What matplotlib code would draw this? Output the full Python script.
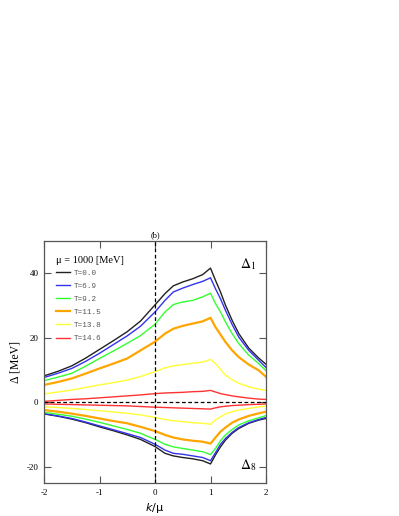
import matplotlib
matplotlib.use("Agg")
import matplotlib.pyplot as plt

k = [-2, -1.75, -1.5, -1.25, -1, -0.75, -0.5, -0.26, 0, 0.18, 0.33, 0.5, 0.68, 0.86, 1.0,
     1.09, 1.18, 1.27, 1.39, 1.51, 1.69, 1.87, 2.0]

temps = ["T=0.0", "T=6.9", "T=9.2", "T=11.5", "T=13.8", "T=14.6"]
colors = ["#222222", "#3333ee", "#33ff33", "#ffa500", "#ffff33", "#ff3333"]
widths = [1.0, 1.0, 1.0, 1.6, 1.0, 1.0]

d1_T0 = [8.2, 9.6, 11.3, 13.7, 16.4, 19.1, 21.9, 25.2, 30.2, 33.7, 36.1, 37.3, 38.3, 39.6, 41.6,
         37.8, 34.2, 30.1, 25.4, 21.3, 16.8, 13.7, 11.8]
d1_T69 = [7.7, 9.0, 10.5, 12.7, 15.2, 17.9, 20.6, 23.6, 28.0, 31.6, 34.2, 35.4, 36.5, 37.5, 38.6,
          35.2, 32.1, 28.5, 24.1, 20.2, 16.1, 13.0, 10.8]
d1_T92 = [6.7, 7.8, 9.0, 11.2, 13.6, 15.9, 18.3, 20.7, 24.2, 28.0, 30.3, 31.1, 31.6, 32.7, 33.8,
          30.6, 28.0, 24.9, 21.3, 18.2, 14.6, 12.0, 9.8]
d1_T115 = [5.4, 6.3, 7.4, 8.9, 10.5, 12.0, 13.6, 16.1, 18.8, 21.3, 22.8, 23.7, 24.4, 25.1, 26.2,
           23.3, 21.0, 18.7, 16.1, 14.0, 11.7, 9.9, 7.9]
d1_T138 = [2.6, 3.2, 3.8, 4.6, 5.4, 6.1, 6.9, 8.0, 9.5, 10.7, 11.3, 11.7, 12.1, 12.5, 13.3,
           12.0, 10.2, 8.4, 7.0, 5.9, 4.8, 4.1, 3.7]
d1_T146 = [0.3, 0.6, 0.9, 1.1, 1.4, 1.7, 2.0, 2.3, 2.7, 2.9, 3.0, 3.1, 3.3, 3.4, 3.7,
           3.2, 2.7, 2.4, 2.0, 1.7, 1.3, 1.0, 0.9]

d8_T0 = [-3.6, -4.3, -5.2, -6.3, -7.6, -8.8, -10.1, -11.5, -13.7, -15.8, -16.6, -17.1, -17.5, -18.1, -19.1,
         -16.3, -13.8, -11.7, -9.6, -8.1, -6.5, -5.5, -5.0]
d8_T69 = [-3.5, -4.2, -5.0, -6.1, -7.3, -8.5, -9.7, -10.9, -13.0, -14.8, -15.8, -16.1, -16.6, -17.1, -18.1,
          -15.6, -13.0, -11.2, -9.3, -7.8, -6.3, -5.3, -4.7]
d8_T92 = [-3.1, -3.7, -4.3, -5.2, -6.2, -7.3, -8.4, -9.6, -11.5, -13.0, -13.8, -14.3, -14.8, -15.3, -16.2,
          -14.3, -11.9, -10.1, -8.4, -7.0, -5.7, -4.8, -4.1]
d8_T115 = [-2.4, -2.9, -3.5, -4.2, -5.0, -5.8, -6.5, -7.6, -8.9, -10.1, -10.9, -11.5, -11.9, -12.2, -12.8,
           -10.9, -9.1, -7.8, -6.3, -5.3, -4.2, -3.4, -2.9]
d8_T138 = [-1.4, -1.6, -1.9, -2.2, -2.6, -3.0, -3.4, -3.9, -4.7, -5.3, -5.7, -6.0, -6.3, -6.5, -6.8,
           -5.5, -4.5, -3.6, -2.9, -2.4, -1.9, -1.4, -1.2]
d8_T146 = [-0.5, -0.6, -0.7, -0.8, -0.9, -1.0, -1.1, -1.3, -1.5, -1.6, -1.7, -1.8, -1.9, -2.0, -2.1,
           -1.7, -1.4, -1.2, -1.0, -0.9, -0.7, -0.6, -0.5]

delta1 = [d1_T0, d1_T69, d1_T92, d1_T115, d1_T138, d1_T146]
delta8 = [d8_T0, d8_T69, d8_T92, d8_T115, d8_T138, d8_T146]

xticks = [-2, -1, 0, 1, 2]
yticks = [-20, 0, 20, 40]

fig = plt.figure(figsize=(3.99, 5.16), dpi=100)
ax = fig.add_axes([44/399, 1-483/516, 222/399, 242/516])

serif = "Liberation Serif"

for c, w, lab, a, b in zip(colors, widths, temps, delta1, delta8):
    ax.plot(k, a, color=c, lw=w, label=lab, solid_joinstyle="round")
    ax.plot(k, b, color=c, lw=w, solid_joinstyle="round")

ax.axvline(0, color="black", lw=0.9, ls=(0, (3, 2)))
ax.axhline(0, color="black", lw=0.9, ls=(0, (3, 2)))

ax.set_xlim(-2, 2)
ax.set_ylim(-25, 50)
ax.set_xticks(xticks)
ax.set_yticks(yticks)
ax.set_xticklabels([str(t) for t in xticks], family=serif, fontsize=6.5)
ax.set_yticklabels([str(t) for t in yticks], family=serif, fontsize=6.5)
ax.tick_params(direction="in", length=5, width=0.8, top=True, right=True, color="#555555", pad=4)
for s in ax.spines.values():
    s.set_color("#555555")
    s.set_linewidth(0.9)

ax.set_xlabel(r"$k$/μ", fontsize=8, labelpad=3)
ax.set_ylabel("Δ [MeV]", family=serif, fontsize=8.5, labelpad=4)
ax.set_title("(b)", family=serif, fontsize=6, pad=3)

leg = ax.legend(loc="upper left", frameon=False, title="μ = 1000 [MeV]",
                prop={"family": "Liberation Mono", "size": 5.5},
                handlelength=1.85, handletextpad=0.5, labelspacing=0.75,
                borderaxespad=0.4, bbox_to_anchor=(0.025, 0.962))
leg.get_title().set_fontfamily(serif)
leg.get_title().set_fontsize(7.5)
leg._legend_box.align = "left"
leg._legend_box.sep = 3
for t in leg.get_texts():
    t.set_color("#555555")

ax.text(0.955, 0.905, r"$\Delta_1$", transform=ax.transAxes, ha="right", va="center",
        fontsize=10, family=serif, math_fontfamily="stix")
ax.text(0.955, 0.075, r"$\Delta_8$", transform=ax.transAxes, ha="right", va="center",
        fontsize=10, family=serif, math_fontfamily="stix")

fig.savefig("out.png", dpi=100)
